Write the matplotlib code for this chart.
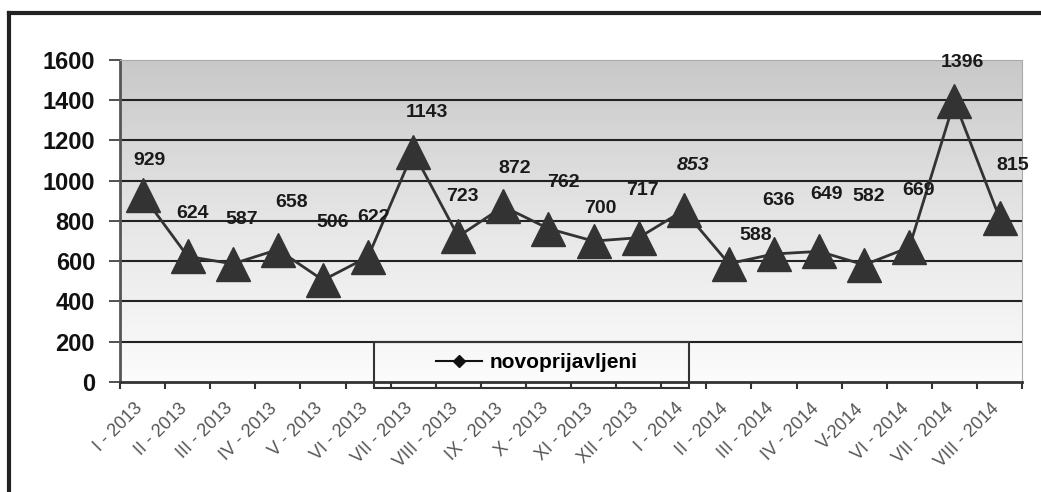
import numpy as np
import matplotlib
matplotlib.use("Agg")
import matplotlib.pyplot as plt
import matplotlib.transforms as mtransforms
from matplotlib.lines import Line2D
from matplotlib.patches import Rectangle

plt.rcParams['font.family'] = ['Liberation Sans', 'DejaVu Sans']

# Data
months = ["I - 2013", "II - 2013", "III - 2013", "IV - 2013", "V - 2013", "VI - 2013",
          "VII - 2013", "VIII - 2013", "IX - 2013", "X - 2013", "XI - 2013", "XII - 2013",
          "I - 2014", "II - 2014", "III - 2014", "IV - 2014", "V-2014", "VI - 2014",
          "VII - 2014", "VIII - 2014"]
novoprijavljeni = [929, 624, 587, 658, 506, 622, 1143, 723, 872, 762, 700, 717,
                   853, 588, 636, 649, 582, 669, 1396, 815]
yticks = [0, 200, 400, 600, 800, 1000, 1200, 1400, 1600]

# label offsets in pixels (dx, dy) as placed in the original
label_dx = [7, 5, 9, 14, 10, 5, 14, 4, 11, 15, 7, 4, 9, 27, 5, 7, 4, 9, 8, 13]
label_dy = [35, 43, 44, 47, 58, 39, 39, 40, 38, 46, 33, 47, 45, 28, 53, 57, 68, 57, 39, 52]

fig = plt.figure(figsize=(10.41, 4.92), dpi=100)
ax = fig.add_axes([0.1153, 0.2236, 0.8665, 0.6545])

x = np.arange(len(months))
ax.set_xlim(-0.5, len(months) - 0.5)
ax.set_ylim(0, 1600)

# gradient background
grad = np.linspace(0, 1, 256).reshape(-1, 1)
ax.imshow(grad, extent=[-0.5, len(months) - 0.5, 0, 1600], aspect='auto',
          cmap=matplotlib.colors.LinearSegmentedColormap.from_list('g', ['#fcfcfc', '#e6e6e6', '#c8c8c8']),
          origin='lower', zorder=0)

for yv in yticks[1:-1]:
    ax.axhline(yv, color='#222222', lw=1.5, zorder=1)

ax.plot(x, novoprijavljeni, color='#333333', lw=2, marker='^', markersize=24,
        markerfacecolor='#333333', markeredgecolor='#333333', zorder=3)

for i, v in enumerate(novoprijavljeni):
    style = 'italic' if months[i] == "I - 2014" else 'normal'
    ax.annotate(str(v), (x[i], v), xytext=(label_dx[i], label_dy[i]),
                textcoords='offset pixels', ha='center', va='center',
                fontsize=14, fontweight='bold', fontstyle=style, color='#1a1a1a', zorder=4)

ax.set_yticks(yticks)
ax.set_yticklabels([str(t) for t in yticks], fontsize=17, fontweight='bold', color='#111111')
ax.tick_params(axis='y', length=8, width=1.2, color='#333333', pad=10)

ax.set_xticks(x)
ax.set_xticklabels(months, rotation=45, ha='right', rotation_mode='anchor',
                   fontsize=13, color='#555555')
ax.tick_params(axis='x', which='major', length=0, pad=13)
shift = mtransforms.ScaledTranslation(-9 / 100, 0, fig.dpi_scale_trans)
for lbl in ax.get_xticklabels():
    lbl.set_transform(lbl.get_transform() + shift)
ax.set_xticks(np.arange(-0.5, len(months), 1), minor=True)
ax.tick_params(axis='x', which='minor', length=5, width=1.5, color='#333333')

ax.spines['left'].set_color('#555555')
ax.spines['left'].set_linewidth(2)
ax.spines['bottom'].set_color('#333333')
ax.spines['bottom'].set_linewidth(2)
ax.spines['top'].set_color('#aaaaaa')
ax.spines['right'].set_color('#aaaaaa')

# legend box
ax.add_patch(Rectangle((0.282, -0.019), 0.349, 0.143, transform=ax.transAxes,
                       fill=False, edgecolor='#333333', lw=1.5, clip_on=False, zorder=5))
handle = Line2D([], [], color='#111111', lw=1.5, marker='D', markersize=6)
leg = ax.legend([handle], ['novoprijavljeni'], loc='center left',
                bbox_to_anchor=(0.33, 0.06), frameon=False,
                prop={'size': 15, 'weight': 'bold'}, handlelength=2.2, handletextpad=0.35)

# outer frame
fig.add_artist(Line2D([9 / 1041, 9 / 1041], [0, 1 - 13 / 492], transform=fig.transFigure,
                      color='#222222', lw=3))
fig.add_artist(Line2D([9 / 1041, 1], [1 - 13 / 492, 1 - 13 / 492], transform=fig.transFigure,
                      color='#222222', lw=3))

fig.savefig("out.png", dpi=100)
